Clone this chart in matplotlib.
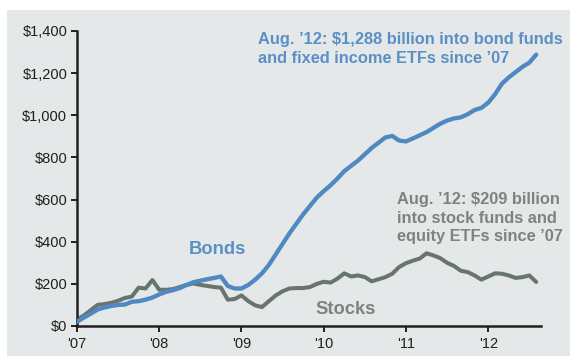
import matplotlib

matplotlib.use("Agg")

import matplotlib.pyplot as plt  # noqa: E402
from matplotlib.patches import Rectangle  # noqa: E402

# Cumulative flows since Jan 2007, $ billions, monthly through Aug 2012
bond_flows = [
    20, 40, 58, 78, 88, 95, 100, 102, 115, 118, 125, 135,
    150, 162, 170, 180, 195, 208, 215, 222, 228, 235, 190, 178,
    178, 195, 220, 250, 290, 340, 390, 440, 485, 530, 570, 610,
    640, 668, 700, 735, 760, 785, 815, 845, 870, 895, 902, 880,
    876, 890, 905, 920, 940, 960, 975, 985, 990, 1005, 1025, 1035,
    1060, 1100, 1150, 1180, 1205, 1230, 1250, 1288,
]
stock_flows = [
    30, 50, 75, 100, 104, 110, 120, 133, 140, 182, 178, 218,
    172, 172, 175, 185, 195, 202, 195, 190, 185, 182, 125, 128,
    145, 118, 98, 90, 118, 145, 165, 178, 180, 180, 185, 200,
    210, 206, 225, 250, 235, 240, 232, 212, 222, 232, 248, 280,
    298, 310, 320, 345, 335, 322, 300, 285, 262, 256, 240, 220,
    235, 250, 248, 240, 228, 232, 240, 209,
]
months = list(range(len(bond_flows)))

year_ticks = [0, 12, 24, 36, 48, 60]
year_labels = ["'07", "'08", "'09", "'10", "'11", "'12"]
y_ticks = [0, 200, 400, 600, 800, 1000, 1200, 1400]
y_labels = ["$0", "$200", "$400", "$600", "$800", "$1,000", "$1,200", "$1,400"]

BOND_COLOR = "#5089c2"
STOCK_COLOR = "#68756f"
BOND_TEXT = "#5a90c6"
STOCK_TEXT = "#7c8380"
PANEL = "#e5e8e8"
INK = "#231f20"

plt.rcParams["font.family"] = ["Liberation Sans", "DejaVu Sans"]

fig = plt.figure(figsize=(5.7, 3.56), dpi=100)
fig.patch.set_facecolor("white")
fig.patches.append(
    Rectangle((7 / 570, 0), 1, 1 - 10 / 356, transform=fig.transFigure,
              facecolor=PANEL, edgecolor="none", zorder=-5)
)

ax = fig.add_axes([77 / 570, 1 - 326 / 356, (541 - 77) / 570, (326 - 31) / 356])
ax.set_facecolor("none")
ax.set_zorder(1)

ax.plot(months, bond_flows, color=BOND_COLOR, linewidth=3.1,
        solid_capstyle="round", solid_joinstyle="round", zorder=3)
ax.plot(months, stock_flows, color=STOCK_COLOR, linewidth=2.9,
        solid_capstyle="round", solid_joinstyle="round", zorder=2)

ax.set_xlim(0, 67.7)
ax.set_ylim(0, 1400)
ax.set_xticks(year_ticks)
ax.set_xticklabels(year_labels)
ax.set_yticks(y_ticks)
ax.set_yticklabels(y_labels)

for side in ("top", "right"):
    ax.spines[side].set_visible(False)
for side in ("left", "bottom"):
    ax.spines[side].set_linewidth(1.8)
    ax.spines[side].set_color(INK)
ax.tick_params(axis="both", colors=INK, labelsize=10.5, length=4, width=1.4)
ax.tick_params(axis="y", pad=3)
ax.tick_params(axis="x", pad=4)

ax.text(16.3, 365, "Bonds", color=BOND_TEXT, fontsize=13.2, fontweight="bold",
        va="center", ha="left")
ax.text(34.8, 78, "Stocks", color=STOCK_TEXT, fontsize=13.2, fontweight="bold",
        va="center", ha="left")

fig.text(258 / 570, 1 - 32 / 356,
         "Aug. \u201912: $1,288 billion into bond funds\n"
         "and fixed income ETFs since \u201907",
         color=BOND_TEXT, fontsize=11.8, fontweight="bold",
         ha="left", va="top", linespacing=1.3)
fig.text(397 / 570, 1 - 192 / 356,
         "Aug. \u201912: $209 billion\n"
         "into stock funds and\n"
         "equity ETFs since \u201907",
         color=STOCK_TEXT, fontsize=11.8, fontweight="bold",
         ha="left", va="top", linespacing=1.3)

fig.savefig("out.png", dpi=100)
